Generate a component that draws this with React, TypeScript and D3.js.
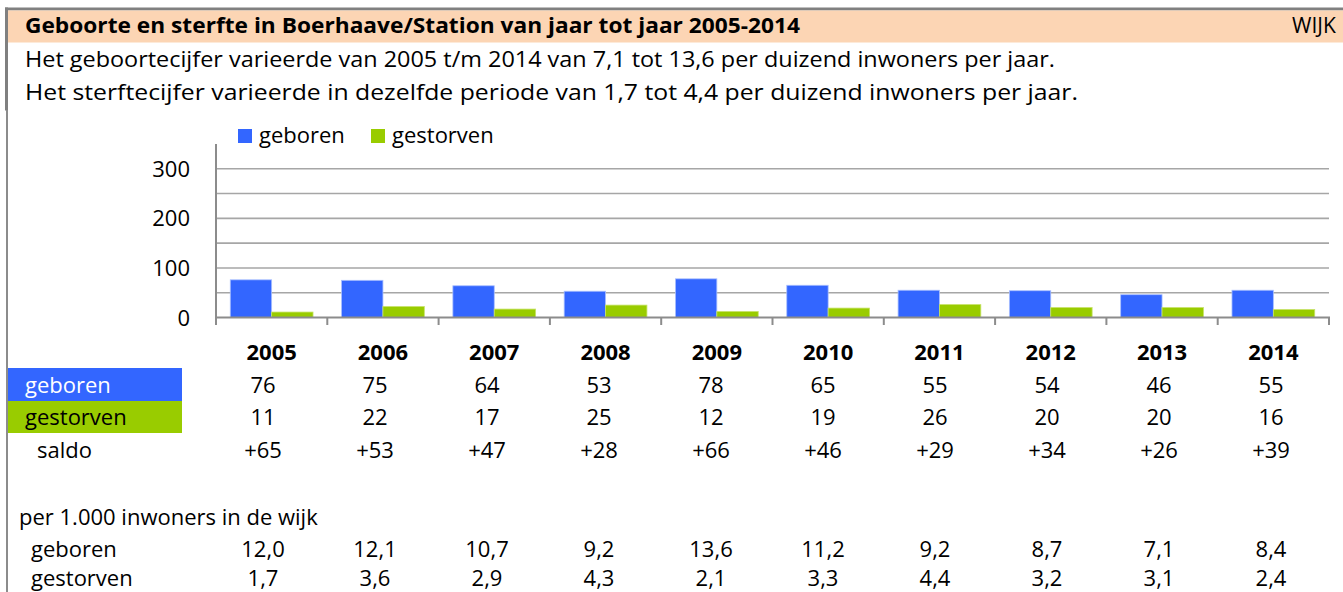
import React, { useEffect } from "react";
import * as d3 from "d3";

// chart data
const years = ["2005", "2006", "2007", "2008", "2009", "2010", "2011", "2012", "2013", "2014"];
const geboren = [76, 75, 64, 53, 78, 65, 55, 54, 46, 55];
const gestorven = [11, 22, 17, 25, 12, 19, 26, 20, 20, 16];
const saldo = [65, 53, 47, 28, 66, 46, 29, 34, 26, 39];
const geborenPer1000 = [12.0, 12.1, 10.7, 9.2, 13.6, 11.2, 9.2, 8.7, 7.1, 8.4];
const gestorvenPer1000 = [1.7, 3.6, 2.9, 4.3, 2.1, 3.3, 4.4, 3.2, 3.1, 2.4];
const yTicks = [0, 100, 200, 300];
const gridValues = [50, 100, 150, 200, 250, 300];
const seriesNames = ["geboren", "gestorven"];

const title = "Geboorte en sterfte in Boerhaave/Station van jaar tot jaar 2005-2014";
const line1 = "Het geboortecijfer varieerde van 2005 t/m 2014 van 7,1 tot 13,6 per duizend inwoners per jaar.";
const line2 = "Het sterftecijfer varieerde in dezelfde periode van 1,7 tot 4,4 per duizend inwoners per jaar.";

const BLUE = "#3366FF";
const GREEN = "#99CC00";
const GRID = "#A6A6A6";
const AXIS = "#8C8C8C";
const FONT = "'Open Sans', Lato, sans-serif";
const FS = 22;

const nl = d3.formatLocale({ decimal: ",", thousands: ".", grouping: [3], currency: ["€", ""] });
const fmt1 = nl.format(".1f");

export default function App() {
  useEffect(() => {
    document.body.style.margin = "0";
  }, []);

  const width = 1343;
  const height = 592;

  const x = d3.scaleBand().domain(years).range([216, 1329]);
  const inner = d3.scaleBand().domain(seriesNames).range([0, x.bandwidth()]).paddingOuter(0.345);
  const y = d3.scaleLinear().domain([0, 350]).range([317.5, 144]);
  const tableX = d3.scaleBand().domain(years).range([207, 1327]);
  const tx = (yr: string) => (tableX(yr) as number) + tableX.bandwidth() / 2;

  const colors = [BLUE, GREEN];
  const series = [geboren, gestorven];

  const rowText = (vals: string[], yPos: number, key: string) =>
    years.map((yr, i) => (
      <text key={key + yr} x={tx(yr)} y={yPos} textAnchor="middle" fontSize={FS} fill="#000">
        {vals[i]}
      </text>
    ));

  return (
    <svg width={width} height={height} style={{ position: "absolute", left: 0, top: 0, fontFamily: FONT, background: "#fff" }}>
      {/* header */}
      <rect x={5} y={7.5} width={width - 5} height={3} fill="#808080" />
      <rect x={8} y={10.5} width={width - 8} height={32} fill="#FCD5B4" />
      <rect x={5} y={7.5} width={3} height={103} fill="#808080" />
      <rect x={6} y={110} width={2} height={height - 110} fill="#8C8C8C" />
      <text x={25} y={33} fontSize={FS - 1} fontWeight="bold" textLength={775} lengthAdjust="spacingAndGlyphs">{title}</text>
      <text x={1292} y={33} fontSize={FS - 1}>WIJK</text>
      <text x={25} y={67} fontSize={FS} textLength={1030} lengthAdjust="spacingAndGlyphs">{line1}</text>
      <text x={25} y={100} fontSize={FS} textLength={1053} lengthAdjust="spacingAndGlyphs">{line2}</text>

      {/* legend */}
      <rect x={238} y={129} width={14} height={14} fill={BLUE} />
      <text x={259} y={143} fontSize={FS}>geboren</text>
      <rect x={371} y={129} width={14} height={14} fill={GREEN} />
      <text x={392} y={143} fontSize={FS}>gestorven</text>

      {/* grid */}
      {gridValues.map((v) => (
        <line key={"g" + v} x1={216} x2={1329} y1={y(v)} y2={y(v)} stroke={GRID} strokeWidth={1.6} />
      ))}
      {yTicks.map((v) => (
        <text key={"yt" + v} x={190} y={y(v) + 8} textAnchor="end" fontSize={FS}>{v}</text>
      ))}

      {/* bars */}
      {years.map((yr, i) => (
        <g key={"b" + yr} transform={`translate(${x(yr)},0)`}>
          {seriesNames.map((s, j) => (
            <rect
              key={s}
              x={inner(s)}
              y={y(series[j][i])}
              width={inner.bandwidth()}
              height={y(0) - y(series[j][i])}
              fill={colors[j]}
              stroke={j === 0 ? "#A9BFFF" : "#C6E266"}
              strokeWidth={0.8}
            />
          ))}
        </g>
      ))}

      {/* axes */}
      <line x1={216} x2={216} y1={144} y2={325} stroke={AXIS} strokeWidth={2} />
      <line x1={216} x2={1330} y1={y(0)} y2={y(0)} stroke={AXIS} strokeWidth={2} />
      {years.map((yr) => (
        <line key={"tk" + yr} x1={(x(yr) as number) + x.bandwidth()} x2={(x(yr) as number) + x.bandwidth()} y1={y(0)} y2={325} stroke={AXIS} strokeWidth={2} />
      ))}

      {/* year labels */}
      {years.map((yr) => (
        <text key={"yl" + yr} x={(x(yr) as number) + x.bandwidth() / 2} y={360} textAnchor="middle" fontSize={FS} fontWeight="bold">
          {yr}
        </text>
      ))}

      {/* table */}
      <rect x={8} y={368} width={174} height={33} fill={BLUE} />
      <rect x={8} y={401} width={174} height={32} fill={GREEN} />
      <text x={25} y={393} fontSize={FS} fill="#fff">geboren</text>
      <text x={25} y={425} fontSize={FS}>gestorven</text>
      <text x={37} y={458} fontSize={FS}>saldo</text>
      {rowText(geboren.map(String), 393, "gb")}
      {rowText(gestorven.map(String), 425, "gs")}
      {rowText(saldo.map((v) => (v > 0 ? "+" : "") + v), 458, "sa")}

      <text x={19} y={525} fontSize={FS}>per 1.000 inwoners in de wijk</text>
      <text x={31} y={557} fontSize={FS}>geboren</text>
      <text x={31} y={586} fontSize={FS}>gestorven</text>
      {rowText(geborenPer1000.map(fmt1), 557, "pg")}
      {rowText(gestorvenPer1000.map(fmt1), 586, "ps")}
    </svg>
  );
}
